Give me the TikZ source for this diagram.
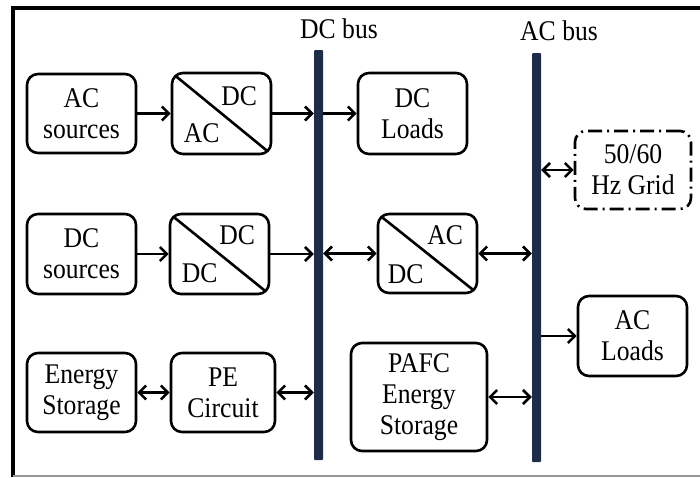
\documentclass[tikz,border=0pt]{standalone}
\usepackage{fontspec}
\setmainfont[FakeStretch=0.9]{Liberation Serif}
\usetikzlibrary{arrows.meta, calc}
\definecolor{busNavy}{RGB}{30, 44, 74}
\definecolor{frameGrey}{RGB}{150, 150, 150}

\begin{document}
\begin{tikzpicture}[x=1pt, y=-1pt,
    every node/.style={font=\fontsize{28.5}{31}\selectfont},
    blockbox/.style={draw, line width=2.6pt, rounded corners=11pt, align=center, inner sep=0pt},
    convbox/.style={blockbox, path picture={\draw[line width=2.6pt] (path picture bounding box.north west) -- (path picture bounding box.south east);}},
    convtext/.style={inner sep=0pt},
    busbar/.style={fill=busNavy, minimum width=9pt, inner sep=0pt, rounded corners=1pt},
    link/.style={line width=2.6pt, -{Straight Barb[length=7pt, width=14pt]}},
    duplex/.style={line width=2.6pt, {Straight Barb[length=7pt, width=14pt]}-{Straight Barb[length=7pt, width=14pt]}}]
            \useasboundingbox (0,0) rectangle (700,477);

            % Frame
            \draw[line width=4pt] (13,477) -- (13,8) -- (700,8);
            \draw[frameGrey, line width=1.5pt] (13,476) -- (700,476);

            % Buses
            \node[busbar, minimum height=410pt] (dcbus) at (318.5,255) {};
            \node[busbar, minimum height=409pt] (acbus) at (536.5,257.5) {};
            \node[anchor=base west, inner sep=0pt] (dcbuslabel) at (300,38) {DC bus};
            \node[anchor=base west, inner sep=0pt] (acbuslabel) at (520,40) {AC bus};

            % Top row
            \node[blockbox, minimum width=109pt, minimum height=79pt] (acsrc) at (81.5,113.5) {AC\\sources};
            \node[convbox, minimum width=99pt, minimum height=81pt] (acdc) at (221.5,113.5) {};
            \node[convtext, anchor=north east] (acdcout) at ($(acdc.north east)+(-15,15)$) {DC};
            \node[convtext, anchor=south west] (acdcin) at ($(acdc.south west)+(13,-12)$) {AC};
            \node[blockbox, minimum width=109pt, minimum height=81pt] (dcload) at (412.5,113.5) {DC\\Loads};
            \node[blockbox, dash pattern={on 14pt off 5pt on 2pt off 5pt}, minimum width=116pt, minimum height=78pt] (grid) at (633,170) {50/60\\Hz Grid};

            % Middle row
            \node[blockbox, minimum width=109pt, minimum height=80pt] (dcsrc) at (81.5,254) {DC\\sources};
            \node[convbox, minimum width=99pt, minimum height=80pt] (dcdc) at (219.5,254) {};
            \node[convtext, anchor=north east] (dcdcout) at ($(dcdc.north east)+(-15,13)$) {DC};
            \node[convtext, anchor=south west] (dcdcin) at ($(dcdc.south west)+(13,-12)$) {DC};
            \node[convbox, minimum width=99pt, minimum height=79pt] (dcac) at (427.5,253.5) {};
            \node[convtext, anchor=north east] (dcacout) at ($(dcac.north east)+(-15,13)$) {AC};
            \node[convtext, anchor=south west] (dcacin) at ($(dcac.south west)+(11,-10)$) {DC};
            \node[blockbox, minimum width=109pt, minimum height=80pt] (acload) at (632.5,336) {AC\\Loads};

            % Bottom row
            \node[blockbox, minimum width=109pt, minimum height=79pt] (estor) at (81.5,392.5) {Energy\\Storage};
            \node[blockbox, minimum width=104pt, minimum height=79pt] (pe) at (223,392.5) {PE\\Circuit};
            \node[blockbox, minimum width=136pt, minimum height=108pt] (pafc) at (419,397) {PAFC\\Energy\\Storage};

            % Arrows
            \draw[link] (acsrc.east) -- (acdc.west);
            \draw[link] (acdc.east) -- (acdc.east -| dcbus.west);
            \draw[link] (dcload.west -| dcbus.east) -- (dcload.west);
            \draw[link] (dcsrc.east) -- (dcdc.west);
            \draw[link] (dcdc.east) -- (dcdc.east -| dcbus.west);
            \draw[duplex] (dcac.west -| dcbus.east) -- (dcac.west);
            \draw[duplex] (dcac.east) -- (dcac.east -| acbus.west);
            \draw[duplex] (grid.west -| acbus.east) -- (grid.west);
            \draw[link] (acload.west -| acbus.east) -- (acload.west);
            \draw[duplex] (pafc.east) -- (pafc.east -| acbus.west);
            \draw[duplex] (estor.east) -- (pe.west);
            \draw[duplex] (pe.east) -- (pe.east -| dcbus.west);
        \end{tikzpicture}
\end{document}
